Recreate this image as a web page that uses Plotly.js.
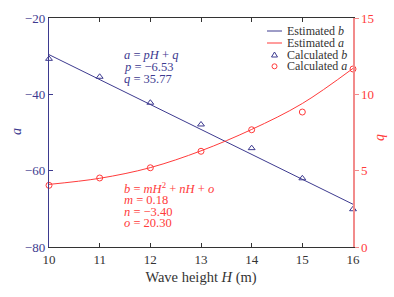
<!DOCTYPE html>
<html><head><meta charset="utf-8">
<script src="https://cdn.plot.ly/plotly-3.0.1.min.js"></script>
<style>html,body{margin:0;padding:0;background:#fff}#c{width:394px;height:297px}</style>
</head><body><div id="c"></div>
<script>
var H = [10, 11, 12, 13, 14, 15, 16];
var estA_left = [-29.6, -36.1, -42.7, -49.2, -55.7, -62.3, -68.8];
var calcA_left = [-30.7, -35.4, -42.2, -47.9, -54.1, -62.0, -70.1];
var estB_right = [4.1, 4.5, 5.2, 6.3, 7.7, 9.4, 11.7];
var calcB_right = [4.04, 4.52, 5.19, 6.27, 7.68, 8.84, 11.66];
var xTicks = [10, 11, 12, 13, 14, 15, 16];

var BLUE = '#3d3a8f', RED = '#ff3b3b', RAX = '#f28b8b', DARK = '#333333';
var FONT = 'Liberation Serif';

var traces = [
  {x: H, y: estA_left, mode: 'lines', line: {color: BLUE, width: 1}, yaxis: 'y', showlegend: false},
  {x: H, y: estB_right, mode: 'lines', line: {color: RED, width: 1, shape: 'spline'}, yaxis: 'y2', showlegend: false},
  {x: H, y: calcA_left, mode: 'markers', marker: {symbol: 'triangle-up-open', size: 6, color: BLUE, line: {width: 1}}, yaxis: 'y', showlegend: false, cliponaxis: false},
  {x: H, y: calcB_right, mode: 'markers', marker: {symbol: 'circle-open', size: 6, color: RED, line: {width: 1}}, yaxis: 'y2', showlegend: false, cliponaxis: false}
];

function px(x){return (x-49)/304;}
function py(y){return (247-y)/229;}

var ann = [];
function txt(s, x, y, color, size, anchor, angle){
  ann.push({xref:'paper', yref:'paper', x:x, y:y, text:s, showarrow:false, xanchor:anchor||'left', yanchor:'middle',
    font:{family:FONT, size:size||12.5, color:color}, textangle: angle||0});
}
txt('<i>a</i> = <i>pH</i> + <i>q</i>', px(122), py(55), BLUE, 12.5);
txt('<i>p</i> = −6.53', px(122), py(67), BLUE, 12.5);
txt('<i>q</i> = 35.77', px(122), py(78.5), BLUE, 12.5);
txt('<i>b</i> = <i>mH</i><sup>2</sup> + <i>nH</i> + <i>o</i>', px(122), py(188), RED, 12.5);
txt('<i>m</i> = 0.18', px(122), py(200), RED, 12.5);
txt('<i>n</i> = −3.40', px(122), py(211.5), RED, 12.5);
txt('<i>o</i> = 20.30', px(122), py(223), RED, 12.5);
txt('<i>a</i>', px(16), py(132), BLUE, 14, 'center', -90);
txt('<i>b</i>', px(382), py(137), RED, 14, 'center', 90);
txt('Estimated <i>b</i>', px(285), py(31), DARK, 12);
txt('Estimated <i>a</i>', px(285), py(43), DARK, 12);
txt('Calculated <i>b</i>', px(285), py(54.7), DARK, 12);
txt('Calculated <i>a</i>', px(285), py(66.3), DARK, 12);

var shapes = [
  {type:'line', xref:'paper', yref:'paper', x0:px(267), x1:px(282), y0:py(31), y1:py(31), line:{color:BLUE, width:1}},
  {type:'line', xref:'paper', yref:'paper', x0:px(267), x1:px(282), y0:py(43), y1:py(43), line:{color:RED, width:1}},
  {type:'path', xref:'paper', yref:'paper', xsizemode:'pixel', ysizemode:'pixel', xanchor:px(274.5), yanchor:py(55),
   path:'M -3,-2 L 3,-2 L 0,3 Z', line:{color:BLUE, width:1}},
  {type:'circle', xref:'paper', yref:'paper', xsizemode:'pixel', ysizemode:'pixel', xanchor:px(274.5), yanchor:py(66.3),
   x0:-2.5, x1:2.5, y0:-2.5, y1:2.5, line:{color:RED, width:1}}
];

var layout = {
  width: 394, height: 297,
  margin: {l: 49, r: 41, t: 18, b: 50},
  paper_bgcolor: '#fff', plot_bgcolor: '#fff',
  showlegend: false,
  font: {family: FONT, size: 12.5, color: DARK},
  xaxis: {range: [10, 16], tickvals: xTicks, ticktext: xTicks.map(String), showgrid: false, zeroline: false,
    showline: true, linecolor: DARK, linewidth: 1, mirror: 'ticks', ticks: 'inside', ticklen: 4, tickcolor: DARK,
    tickfont: {family: FONT, size: 13, color: DARK},
    title: {text: 'Wave height <i>H</i> (m)', font: {family: FONT, size: 14.5, color: DARK}, standoff: 6}},
  yaxis: {range: [-80, -20], tickvals: [-80, -60, -40, -20], showgrid: false, zeroline: false,
    showline: true, linecolor: BLUE, linewidth: 1.2, ticks: 'inside', ticklen: 4, tickcolor: BLUE,
    tickfont: {family: FONT, size: 13, color: BLUE}},
  yaxis2: {range: [0, 15], tickvals: [0, 5, 10, 15], overlaying: 'y', side: 'right', showgrid: false, zeroline: false,
    showline: true, linecolor: RAX, linewidth: 1.5, ticks: 'outside', ticklen: 4, tickcolor: RAX,
    tickfont: {family: FONT, size: 13, color: RED}},
  annotations: ann,
  shapes: shapes
};
Plotly.newPlot('c', traces, layout, {displayModeBar: false, staticPlot: true});
</script></body></html>
